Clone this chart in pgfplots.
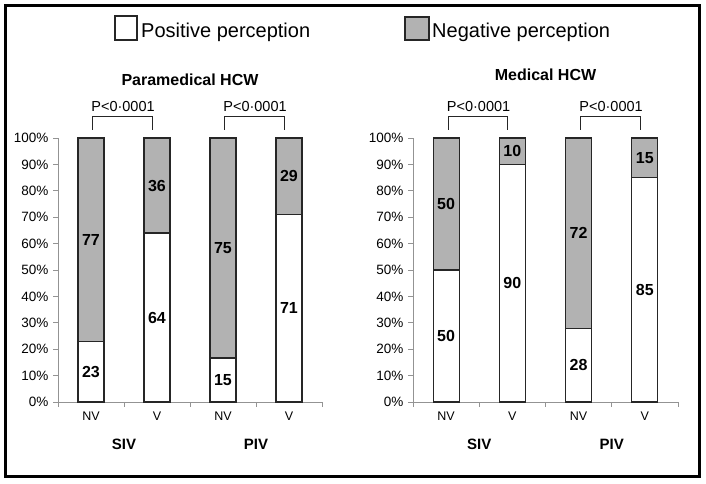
\documentclass[border=0pt]{standalone}
\usepackage{fontspec}
\setmainfont{Liberation Sans}
\usepackage{pgfplots}
\pgfplotsset{compat=1.18}
\definecolor{neg}{gray}{0.70}
\pgfplotsset{
  panel/.style={
    scale only axis, anchor=south west,
    height=264pt,
    xmin=0, xmax=4, ymin=0, ymax=100,
    clip=false,
    axis x line*=bottom, axis y line*=left,
    axis line style={-, gray!85, line width=0.8pt},
    every tick/.style={gray!85, line width=0.8pt},
    tick align=outside,
    major tick length=5pt, minor tick length=5pt,
    ytick={0,10,...,100},
    yticklabel={\pgfmathprintnumber{\tick}\%},
    /pgf/number format/assume math mode=true,
    y tick label style={font=\fontsize{13.5}{15}\selectfont, xshift=-1pt},
    xtick={0.5,1.5,2.5,3.5},
    xticklabels={NV,V,NV,V},
    major x tick style={draw=none},
    minor xtick={0,1,2,3,4},
    x tick label style={font=\fontsize{12.5}{14}\selectfont, yshift=-1pt},
  },
  negbar/.style={ybar, bar width=26pt, bar shift=0pt, fill=neg, draw=black!85, line width=1.1pt},
  posbar/.style={ybar, bar width=26pt, bar shift=0pt, fill=white, draw=black!85, line width=1.1pt},
  labs/.style={only marks, mark=none, nodes near coords, point meta=explicit symbolic,
    every node near coord/.append style={anchor=center, font=\bfseries\fontsize{16}{18}\selectfont, text=black}},
}
\pgfplotstableread{
x    neg  pos
0.5  100  23
1.5  100  64
2.5  100  16.67
3.5  100  71
}\paramed
\pgfplotstableread{
x    y     lab
0.5  11.5  23
0.5  61.5  77
1.5  32    64
1.5  82    36
2.5  8.33  15
2.5  58.33 75
3.5  35.5  71
3.5  85.5  29
}\paramedlab
\pgfplotstableread{
x    neg  pos
0.5  100  50
1.5  100  90
2.5  100  28
3.5  100  85
}\medical
\pgfplotstableread{
x    y     lab
0.5  25    50
0.5  75    50
1.5  45    90
1.5  95    10
2.5  14    28
2.5  64    72
3.5  42.5  85
3.5  92.5  15
}\medicallab
\begin{document}
\begin{tikzpicture}
\path[use as bounding box] (0pt,0pt) rectangle (706pt,484pt);
\draw[line width=3pt] (5.5pt,7pt) rectangle (699.5pt,478.5pt);
% legend
\draw[black!85, line width=1.1pt, fill=white] (115pt,444pt) rectangle (137pt,468pt);
\node[anchor=base west, inner sep=0pt, font=\fontsize{20}{24}\selectfont] at (141pt,446.5pt) {Positive perception};
\draw[black!85, line width=1.1pt, fill=neg] (405pt,444pt) rectangle (429pt,467pt);
\node[anchor=base west, inner sep=0pt, font=\fontsize{20}{24}\selectfont] at (432pt,446.5pt) {Negative perception};
% left panel
\begin{axis}[panel, at={(58pt,82pt)}, width=264pt]
\addplot[negbar] table[x=x, y=neg] {\paramed};
\addplot[posbar] table[x=x, y=pos] {\paramed};
\addplot[labs] table[x=x, y=y, meta=lab] {\paramedlab};
\draw[black!85, line width=1.1pt] (axis cs:0.52,103.2) -- (axis cs:0.52,108) -- (axis cs:1.43,108) -- (axis cs:1.43,103.2);
\draw[black!85, line width=1.1pt] (axis cs:2.52,103.2) -- (axis cs:2.52,108) -- (axis cs:3.43,108) -- (axis cs:3.43,103.2);
\node[font=\fontsize{14.5}{16}\selectfont] at (axis cs:0.985,111.9) {P<0·0001};
\node[font=\fontsize{14.5}{16}\selectfont] at (axis cs:2.985,111.9) {P<0·0001};
\node[font=\bfseries\fontsize{16}{18}\selectfont] at (rel axis cs:0.5,1) [yshift=58pt] {Paramedical HCW};
\node[font=\bfseries\fontsize{15}{17}\selectfont] at (axis cs:1,0) [yshift=-42pt] {SIV};
\node[font=\bfseries\fontsize{15}{17}\selectfont] at (axis cs:3,0) [yshift=-42pt] {PIV};
\end{axis}
% right panel
\begin{axis}[panel, at={(413pt,82pt)}, width=265pt]
\addplot[negbar] table[x=x, y=neg] {\medical};
\addplot[posbar] table[x=x, y=pos] {\medical};
\addplot[labs] table[x=x, y=y, meta=lab] {\medicallab};
\draw[black!85, line width=1.1pt] (axis cs:0.53,103.2) -- (axis cs:0.53,108) -- (axis cs:1.43,108) -- (axis cs:1.43,103.2);
\draw[black!85, line width=1.1pt] (axis cs:2.53,103.2) -- (axis cs:2.53,108) -- (axis cs:3.43,108) -- (axis cs:3.43,103.2);
\node[font=\fontsize{14.5}{16}\selectfont] at (axis cs:0.99,111.9) {P<0·0001};
\node[font=\fontsize{14.5}{16}\selectfont] at (axis cs:2.99,111.9) {P<0·0001};
\node[font=\bfseries\fontsize{16}{18}\selectfont] at (rel axis cs:0.5,1) [yshift=63pt] {Medical HCW};
\node[font=\bfseries\fontsize{15}{17}\selectfont] at (axis cs:1,0) [yshift=-42pt] {SIV};
\node[font=\bfseries\fontsize{15}{17}\selectfont] at (axis cs:3,0) [yshift=-42pt] {PIV};
\end{axis}
\end{tikzpicture}
\end{document}
